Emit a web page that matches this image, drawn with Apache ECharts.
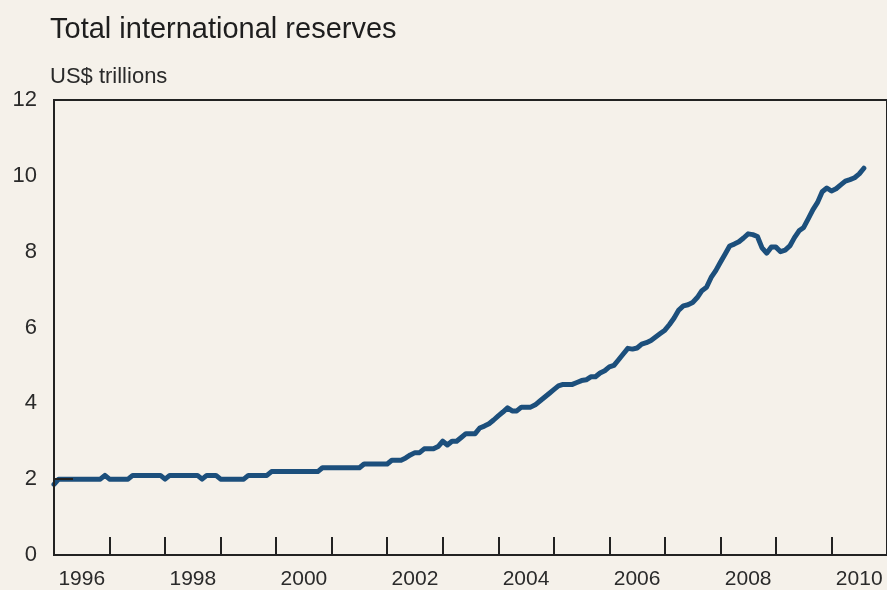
<!DOCTYPE html>
<html>
<head>
<meta charset="utf-8">
<title>Total international reserves</title>
<script src="https://cdn.jsdelivr.net/npm/echarts@6/dist/echarts.min.js"></script>
<style>
  html, body { margin: 0; padding: 0; background: #f5f1ea; }
</style>
</head>
<body>
<div id="main" style="width: 887px; height: 590px;"></div>
<script type="text/javascript">
// first month of the series (Jan 1996), monthly steps
var startYear = 1996;
// total reserves, US$ trillions, one value per month
var reserves = [
  1.86, 2.0, 2.0, 2.0, 2.0, 2.0, 2.0, 2.0, 2.0, 2.0, 2.0, 2.1,
  2.0, 2.0, 2.0, 2.0, 2.0, 2.1, 2.1, 2.1, 2.1, 2.1, 2.1, 2.1,
  2.0, 2.1, 2.1, 2.1, 2.1, 2.1, 2.1, 2.1, 2.0, 2.1, 2.1, 2.1,
  2.0, 2.0, 2.0, 2.0, 2.0, 2.0, 2.1, 2.1, 2.1, 2.1, 2.1, 2.2,
  2.2, 2.2, 2.2, 2.2, 2.2, 2.2, 2.2, 2.2, 2.2, 2.2, 2.3, 2.3,
  2.3, 2.3, 2.3, 2.3, 2.3, 2.3, 2.3, 2.4, 2.4, 2.4, 2.4, 2.4,
  2.4, 2.5, 2.5, 2.5, 2.56, 2.64, 2.7, 2.7, 2.8, 2.8, 2.8, 2.86,
  3.0, 2.9, 3.0, 3.0, 3.1, 3.2, 3.2, 3.2, 3.35, 3.4, 3.46, 3.56,
  3.67, 3.77, 3.88, 3.8, 3.8, 3.9, 3.9, 3.9, 3.96, 4.06, 4.16, 4.26,
  4.36, 4.46, 4.5, 4.5, 4.5, 4.55, 4.6, 4.62, 4.7, 4.7, 4.8, 4.86,
  4.96, 5.0, 5.15, 5.3, 5.45, 5.43, 5.46, 5.56, 5.6, 5.66, 5.75, 5.84,
  5.93, 6.08, 6.25, 6.46, 6.57, 6.6, 6.66, 6.79, 6.97, 7.06, 7.32, 7.5,
  7.72, 7.93, 8.15, 8.2, 8.26, 8.36, 8.47, 8.45, 8.4, 8.1, 7.96, 8.12,
  8.12, 8.0, 8.04, 8.15, 8.37, 8.55, 8.64, 8.87, 9.11, 9.3, 9.58, 9.68,
  9.6, 9.66, 9.76, 9.86, 9.9, 9.95, 10.05, 10.2
];
// x-axis year bands
var years = ['1996', '1997', '1998', '1999', '2000', '2001', '2002', '2003',
             '2004', '2005', '2006', '2007', '2008', '2009', '2010'];

var points = reserves.map(function (v, i) {
  return [startYear + i / 12, v];
});

var textColor = '#2a2a2a';
var font = 'Liberation Sans, Arial, sans-serif';

var myChart = echarts.init(document.getElementById('main'));
var option = {
  backgroundColor: '#f5f1ea',
  animation: false,
  title: [{
    text: 'Total international reserves',
    left: 45,
    top: 10,
    textStyle: { fontFamily: font, fontSize: 29, fontWeight: 'normal', color: '#1e1e1e' }
  }, {
    text: 'US$ trillions',
    left: 45,
    top: 61,
    textStyle: { fontFamily: font, fontSize: 22, fontWeight: 'normal', color: textColor }
  }],
  grid: {
    left: 54,
    top: 100,
    right: -3,
    bottom: 34,
    show: true,
    borderColor: '#222',
    borderWidth: 2,
    backgroundColor: 'transparent'
  },
  xAxis: [{
    type: 'value',
    min: 1996,
    max: 2011,
    show: false
  }, {
    type: 'category',
    data: years,
    boundaryGap: true,
    position: 'bottom',
    axisLine: { lineStyle: { color: '#222', width: 2 } },
    axisTick: {
      show: true,
      inside: true,
      interval: 0,
      length: 18,
      lineStyle: { color: '#222', width: 2 }
    },
    axisLabel: {
      interval: 1,
      margin: 14,
      fontFamily: font,
      fontSize: 21,
      color: textColor
    },
    splitLine: { show: false }
  }],
  yAxis: {
    type: 'value',
    min: 0,
    max: 12,
    interval: 2,
    z: 5,
    axisLine: { show: true, lineStyle: { color: '#222', width: 2 } },
    axisTick: {
      show: true,
      inside: true,
      length: 19,
      customValues: [2],
      lineStyle: { color: '#222', width: 2 }
    },
    axisLabel: {
      margin: 17,
      fontFamily: font,
      fontSize: 22,
      color: textColor
    },
    splitLine: { show: false }
  },
  series: [{
    name: 'Reserves',
    type: 'line',
    xAxisIndex: 0,
    data: points,
    showSymbol: false,
    smooth: false,
    z: 1,
    lineStyle: {
      color: '#1c4f7c',
      width: 5,
      cap: 'round',
      join: 'round'
    }
  }]
};
myChart.setOption(option);
</script>
</body>
</html>
